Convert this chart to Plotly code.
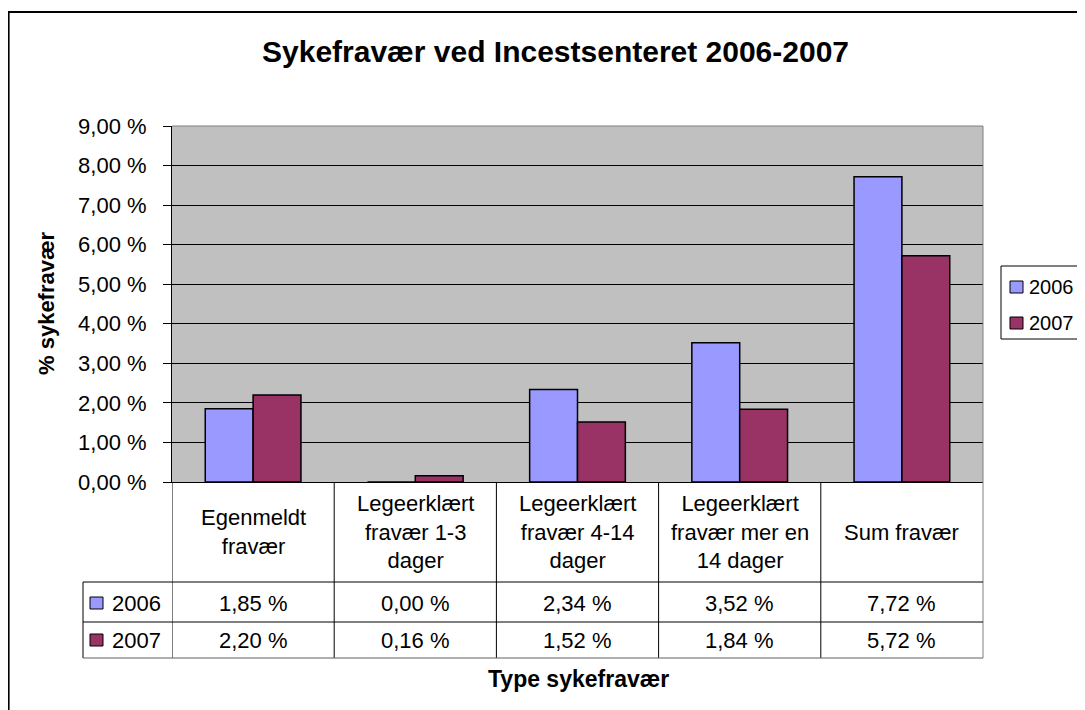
import plotly.graph_objects as go

# ---------------- data ----------------
categories = ["Egenmeldt fravær", "Legeerklært fravær 1-3 dager",
              "Legeerklært fravær 4-14 dager", "Legeerklært fravær mer en 14 dager",
              "Sum fravær"]
category_labels = ["Egenmeldt<br>fravær", "Legeerklært<br>fravær 1-3<br>dager",
                   "Legeerklært<br>fravær 4-14<br>dager", "Legeerklært<br>fravær mer en<br>14 dager",
                   "Sum fravær"]
series_names = ["2006", "2007"]
values_2006 = [1.85, 0.00, 2.34, 3.52, 7.72]
values_2007 = [2.20, 0.16, 1.52, 1.84, 5.72]
series_values = [values_2006, values_2007]
series_colors = ["#9999FF", "#993366"]
y_tick_values = [0, 1, 2, 3, 4, 5, 6, 7, 8, 9]
y_tick_labels = ["0,00 %", "1,00 %", "2,00 %", "3,00 %", "4,00 %",
                 "5,00 %", "6,00 %", "7,00 %", "8,00 %", "9,00 %"]
title_text = "Sykefravær ved Incestsenteret 2006-2007"
y_title = "% sykefravær"
x_title = "Type sykefravær"

# ---------------- layout helpers (screen pixel -> paper) ----------------
FW, FH = 1085, 710
OFF = 8  # page body margin
# plot area in screen pixels
SL, SR, ST, SB = 172, 983, 126, 482
PL, PR, PT, PB = SL - OFF, SR - OFF, ST - OFF, SB - OFF
PW, PH = PR - PL, PB - PT
FONT = "Liberation Sans, Arial, sans-serif"
FS = 22


def px(x):
    return (x - OFF - PL) / PW


def py(y):
    return (PB - (y - OFF)) / PH


def pct(v):
    return f"{v:.2f}".replace(".", ",") + " %"


fig = go.Figure()
for name, vals, col in zip(series_names, series_values, series_colors):
    fig.add_trace(go.Bar(
        x=categories, y=vals, name=name,
        marker=dict(color=col, line=dict(color="black", width=1.5)),
        hoverinfo="x+y",
    ))

shapes = []
annotations = []

# plot area top / right border (gray)
shapes.append(dict(type="line", xref="paper", yref="paper", x0=0, x1=1, y0=1, y1=1,
                   line=dict(color="#808080", width=1)))
shapes.append(dict(type="line", xref="paper", yref="paper", x0=1, x1=1, y0=1, y1=py(658),
                   line=dict(color="#808080", width=1)))

# data table: vertical lines at category boundaries
for k in range(len(categories)):
    shapes.append(dict(type="line", xref="x", yref="paper", x0=k - 0.5, x1=k - 0.5,
                       y0=py(482), y1=py(658), line=dict(color="black", width=1)))
# left header column
shapes.append(dict(type="line", xref="paper", yref="paper", x0=px(83), x1=px(83),
                   y0=py(582), y1=py(658), line=dict(color="black", width=1)))
for yy, col in [(582, "black"), (622, "black"), (658, "#606060")]:
    shapes.append(dict(type="line", xref="paper", yref="paper", x0=px(83), x1=1,
                       y0=py(yy), y1=py(yy), line=dict(color=col, width=1)))

# category labels
for cat, lab in zip(categories, category_labels):
    annotations.append(dict(x=cat, xref="x", y=py(532), yref="paper", text=lab,
                            showarrow=False, xanchor="center", yanchor="middle",
                            font=dict(size=FS, color="black", family=FONT)))

# table rows
row_centers = [603, 640]
for name, vals, col, yc in zip(series_names, series_values, series_colors, row_centers):
    shapes.append(dict(type="rect", xref="paper", yref="paper", x0=px(90), x1=px(103),
                       y0=py(yc + 6), y1=py(yc - 6), fillcolor=col,
                       line=dict(color="black", width=1)))
    annotations.append(dict(x=px(110), xref="paper", y=py(yc), yref="paper", text=name,
                            showarrow=False, xanchor="left", yanchor="middle",
                            font=dict(size=FS, color="black", family=FONT)))
    for cat, v in zip(categories, vals):
        annotations.append(dict(x=cat, xref="x", y=py(yc), yref="paper", text=pct(v),
                                showarrow=False, xanchor="center", yanchor="middle",
                                font=dict(size=FS, color="black", family=FONT)))

# legend (right side, box runs past the page edge as in the reference)
shapes.append(dict(type="rect", xref="paper", yref="paper", x0=px(1001), x1=px(1120),
                   y0=py(266), y1=py(339), line=dict(color="black", width=1),
                   fillcolor="white"))
for name, col, yc in zip(series_names, series_colors, [287, 323]):
    shapes.append(dict(type="rect", xref="paper", yref="paper", x0=px(1010), x1=px(1023),
                       y0=py(yc + 6), y1=py(yc - 6), fillcolor=col,
                       line=dict(color="black", width=1)))
    annotations.append(dict(x=px(1027), xref="paper", y=py(yc), yref="paper", text=name,
                            showarrow=False, xanchor="left", yanchor="middle",
                            font=dict(size=20, color="black", family=FONT)))

# titles
annotations.append(dict(x=px(555), xref="paper", y=py(51), yref="paper",
                        text="<b>" + title_text + "</b>", showarrow=False,
                        xanchor="center", yanchor="middle",
                        font=dict(size=30, color="black", family=FONT)))
annotations.append(dict(x=px(46), xref="paper", y=py(303), yref="paper",
                        text="<b>" + y_title + "</b>", showarrow=False, textangle=-90,
                        xanchor="center", yanchor="middle",
                        font=dict(size=FS, color="black", family=FONT)))
annotations.append(dict(x=px(578), xref="paper", y=py(679), yref="paper",
                        text="<b>" + x_title + "</b>", showarrow=False,
                        xanchor="center", yanchor="middle",
                        font=dict(size=23, color="black", family=FONT)))

# outer chart frame (extends past right/bottom edges)
shapes.append(dict(type="rect", xref="paper", yref="paper", x0=px(8.6), x1=px(1120),
                   y0=py(12), y1=py(740), line=dict(color="black", width=2),
                   fillcolor="rgba(0,0,0,0)"))

fig.update_layout(
    width=FW, height=FH,
    margin=dict(l=PL, r=FW - PR, t=PT, b=FH - PB, autoexpand=False),
    paper_bgcolor="white", plot_bgcolor="#C0C0C0",
    barmode="group", bargap=0.41, bargroupgap=0,
    font=dict(family=FONT, color="black", size=FS),
    showlegend=False,
    xaxis=dict(range=[-0.5, len(categories) - 0.5], showticklabels=False, ticks="",
               showgrid=False, showline=True, linecolor="black", linewidth=1,
               zeroline=False, fixedrange=True),
    yaxis=dict(range=[0, 9], tickvals=y_tick_values, ticktext=y_tick_labels,
               showgrid=True, gridcolor="black", gridwidth=1, zeroline=False,
               showline=True, linecolor="black", linewidth=1,
               ticks="outside", ticklen=8, tickcolor="black",
               ticklabelstandoff=12,
               tickfont=dict(size=FS, color="black", family=FONT), fixedrange=True),
    shapes=shapes, annotations=annotations,
)

fig.write_html("out.html")
